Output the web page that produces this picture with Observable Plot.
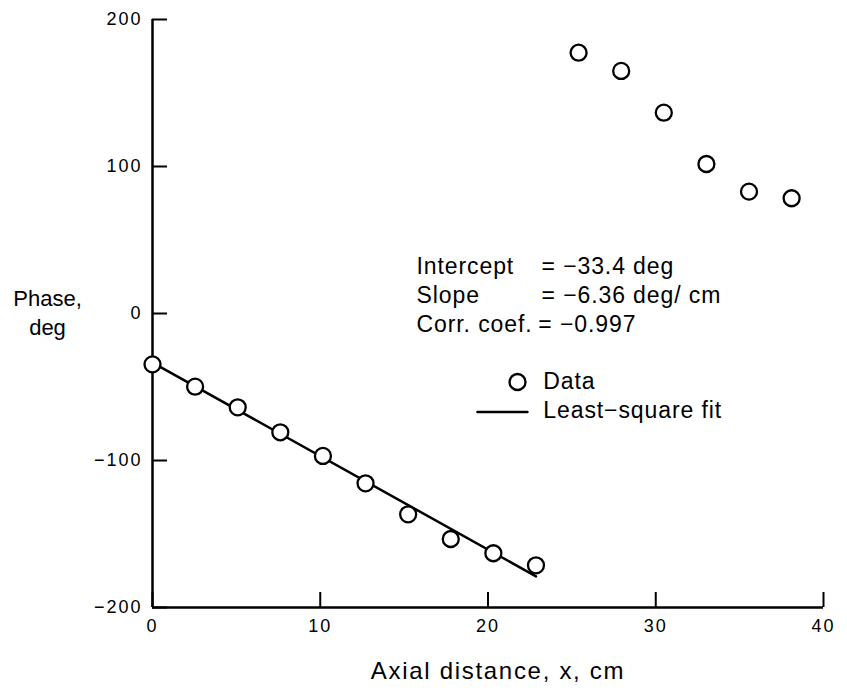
<!DOCTYPE html>
<html>
<head>
<meta charset="utf-8">
<script src="https://cdn.jsdelivr.net/npm/d3@7"></script>
<script src="https://cdn.jsdelivr.net/npm/@observablehq/plot@0.6"></script>
<style>
  html, body { margin: 0; padding: 0; background: white; }
  #chart svg { display: block; }
</style>
</head>
<body>
<div id="chart"></div>
<script>
// Tick labels
const xTicks = [0, 10, 20, 30, 40];
const yTicks = [-200, -100, 0, 100, 200];

// Data: axial distance (cm) and phase (deg)
const distance = [0, 2.54, 5.08, 7.62, 10.16, 12.70, 15.24, 17.78, 20.32, 22.86,
                  25.40, 27.94, 30.48, 33.02, 35.56, 38.10];
const phase = [-34.6, -49.8, -63.8, -80.8, -96.9, -115.5, -136.6, -153.4, -163.1, -171.3,
               177.4, 165.0, 136.6, 101.7, 82.9, 78.4];

// Least-square fit line endpoints
const fitX = [0, 22.86];
const fitY = [-33.4, -178.8];

// Fit statistics
const statNames = ["Intercept", "Slope", "Corr. coef."];
const statValues = ["= \u221233.4 deg", "= \u22126.36 deg/ cm", "= \u22120.997"];

// Legend entries
const legendLabels = ["Data", "Least\u2212square fit"];

const points = distance.map((d, i) => ({x: d, y: phase[i]}));
const fit = fitX.map((d, i) => ({x: d, y: fitY[i]}));

const font = "'Liberation Sans', Arial, Helvetica, sans-serif";
const rowY = [31.6, 11.9, -7.8];

const chart = Plot.plot({
  width: 847,
  height: 691,
  marginLeft: 152,
  marginRight: 24,
  marginTop: 19,
  marginBottom: 84,
  x: {domain: [0, 40]},
  y: {domain: [-200, 200]},
  style: {fontFamily: font, background: "white", color: "black"},
  marks: [
    // axis lines
    Plot.ruleX([0], {stroke: "black", strokeWidth: 2.5}),
    Plot.ruleY([-200], {stroke: "black", strokeWidth: 2.5}),
    // inward ticks
    Plot.axisX(xTicks, {anchor: "bottom", tickSize: -15, strokeWidth: 2, tickFormat: () => "", label: null}),
    Plot.axisY(yTicks, {anchor: "left", tickSize: -15, strokeWidth: 2, tickFormat: () => "", label: null}),
    // tick labels
    Plot.axisX(xTicks, {anchor: "bottom", tickSize: 0, tickPadding: 12, fontSize: 18, label: null, ariaDescription: "ticklab"}),
    Plot.axisY(yTicks, {anchor: "left", tickSize: 0, tickPadding: 10, fontSize: 18, label: null, ariaDescription: "ticklab"}),
    // axis titles
    Plot.text(["Phase,\ndeg"], {frameAnchor: "left", dx: -105, dy: -2, fontSize: 22, lineHeight: 1.32, textAnchor: "middle"}),
    Plot.text(["Axial distance, x, cm"], {frameAnchor: "bottom", dx: 10, dy: 71, fontSize: 24, textAnchor: "middle", ariaDescription: "xtitle"}),
    // fit line
    Plot.line(fit, {x: "x", y: "y", stroke: "black", strokeWidth: 2.5}),
    // data points
    Plot.dot(points, {x: "x", y: "y", r: 8, fill: "white", stroke: "black", strokeWidth: 2.3}),
    // statistics annotation
    Plot.text(statNames, {x: () => 15.74, y: (d, i) => rowY[i], text: d => d, textAnchor: "start", fontSize: 23, ariaDescription: "stats"}),
    Plot.text(statValues, {x: (d, i) => i < 2 ? 23.19 : 23.0, y: (d, i) => rowY[i], text: d => d, textAnchor: "start", fontSize: 23, ariaDescription: "stats"}),
    // legend
    Plot.dot([legendLabels[0]], {x: () => 21.76, y: () => -46.6, r: 8, fill: "white", stroke: "black", strokeWidth: 2.3}),
    Plot.line([19.37, 22.35], {x: d => d, y: () => -67, stroke: "black", strokeWidth: 2.5}),
    Plot.text(legendLabels, {x: () => 23.3, y: (d, i) => [-46.6, -66.3][i], text: d => d, textAnchor: "start", fontSize: 23, ariaDescription: "stats"})
  ]
});

const svg = d3.select(chart);
svg.selectAll('[aria-description="stats"]').attr("letter-spacing", "0.9px");
svg.selectAll('[aria-description="xtitle"]').attr("letter-spacing", "1.7px");
svg.selectAll('[aria-description="ticklab"]').attr("letter-spacing", "2px");
document.getElementById("chart").appendChild(chart);
</script>
</body>
</html>
